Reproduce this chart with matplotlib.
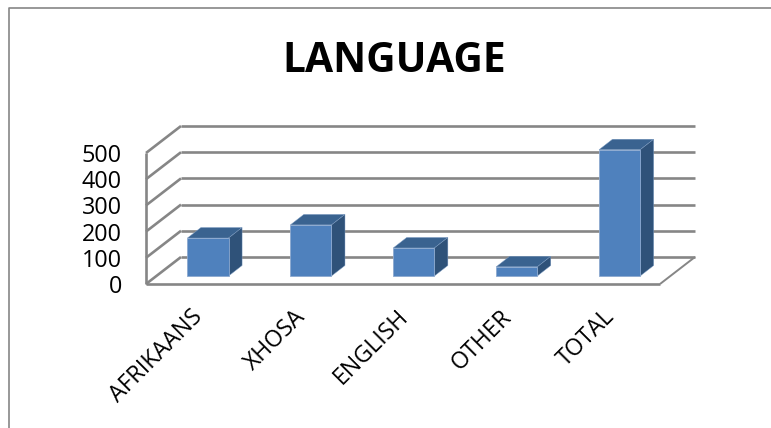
#!/usr/bin/env python3
"""LANGUAGE - pseudo 3D column chart, drawn on a plain data axes."""

import matplotlib
matplotlib.use("Agg")
import matplotlib.pyplot as plt

categories = ["AFRIKAANS", "XHOSA", "ENGLISH", "OTHER", "TOTAL"]
values = [145, 195, 107, 35, 482]
ticks = [0, 100, 200, 300, 400, 500]

W, H = 771, 428
# pixel <-> data scale of the plane the bar fronts sit on
PX_CAT = 102.9
PX_VAL = 131 / 500
X0, Y0 = 208, 276

GRID = "#868686"
FRONT, TOP, SIDE = "#4F81BD", "#3A6390", "#2F5279"
FONT = "Open Sans"

BAR_W = 0.40
BAR_DX, BAR_DY = 13.5 / PX_CAT, 10.5 / PX_VAL
# floor corners, relative to the bar plane
WALL_L, WALL_B = (146 - X0) / PX_CAT, (Y0 - 284) / PX_VAL
BACK_DX, BACK_DY = 35 / PX_CAT, 27 / PX_VAL
FLOOR_R = (660 - X0) / PX_CAT

fig = plt.figure(figsize=(W / 100, H / 100), dpi=100)
ax = fig.add_axes([0, 0, 1, 1])
ax.set_xlim(-X0 / PX_CAT, (W - X0) / PX_CAT)
ax.set_ylim((Y0 - H) / PX_VAL, Y0 / PX_VAL)
ax.axis("off")


def line(xs, ys, lw=1.9, color=GRID):
    ax.plot(xs, ys, color=color, lw=lw, solid_capstyle="butt", zorder=1)


# walls and floor
back_l, back_r = WALL_L + BACK_DX, FLOOR_R + BACK_DX
for t in ticks:
    y = WALL_B + t
    line([WALL_L, back_l], [y, y + BACK_DY])
    line([back_l, back_r], [y + BACK_DY, y + BACK_DY])
line([WALL_L, WALL_L], [WALL_B, WALL_B + ticks[-1]])
line([WALL_L, FLOOR_R], [WALL_B, WALL_B])
line([FLOOR_R, back_r], [WALL_B, WALL_B + BACK_DY], lw=1.4)

# bars
for i, v in enumerate(values):
    l, r = i - BAR_W / 2, i + BAR_W / 2
    ax.fill([l, r, r + BAR_DX, l + BAR_DX], [v, v, v + BAR_DY, v + BAR_DY],
            color=TOP, ec="#7F9FC6", lw=0.3, zorder=2)
    ax.fill([r, r + BAR_DX, r + BAR_DX, r], [0, BAR_DY, v + BAR_DY, v],
            color=SIDE, ec="#7F9FC6", lw=0.3, zorder=2)
    ax.fill([l, r, r, l], [0, 0, v, v], color=FRONT, ec="#8CA9CF", lw=0.6, zorder=3)

# labels
for t in ticks:
    ax.text(WALL_L - 24 / PX_CAT, WALL_B + t, str(t), ha="right", va="center_baseline",
            fontsize=16.8, family=FONT, color="black")
for i, c in enumerate(categories):
    ax.text(i - 17 / PX_CAT, -29 / PX_VAL, c, ha="right", va="top", rotation=45,
            rotation_mode="anchor", fontsize=16.7, family=FONT, color="black")
ax.text(394.5 / 771, 1 - 61 / 428, "LANGUAGE", transform=ax.transAxes, ha="center",
        va="center", fontsize=29.3, fontweight="bold", family=FONT, color="black")

# chart frame, only top and left show in the crop
ax.plot([8.5 / W, 8.5 / W, 1], [0, 1 - 7.5 / H, 1 - 7.5 / H], transform=ax.transAxes,
        color=GRID, lw=1.2, clip_on=False)

fig.savefig("out.png", dpi=100, facecolor="white")
